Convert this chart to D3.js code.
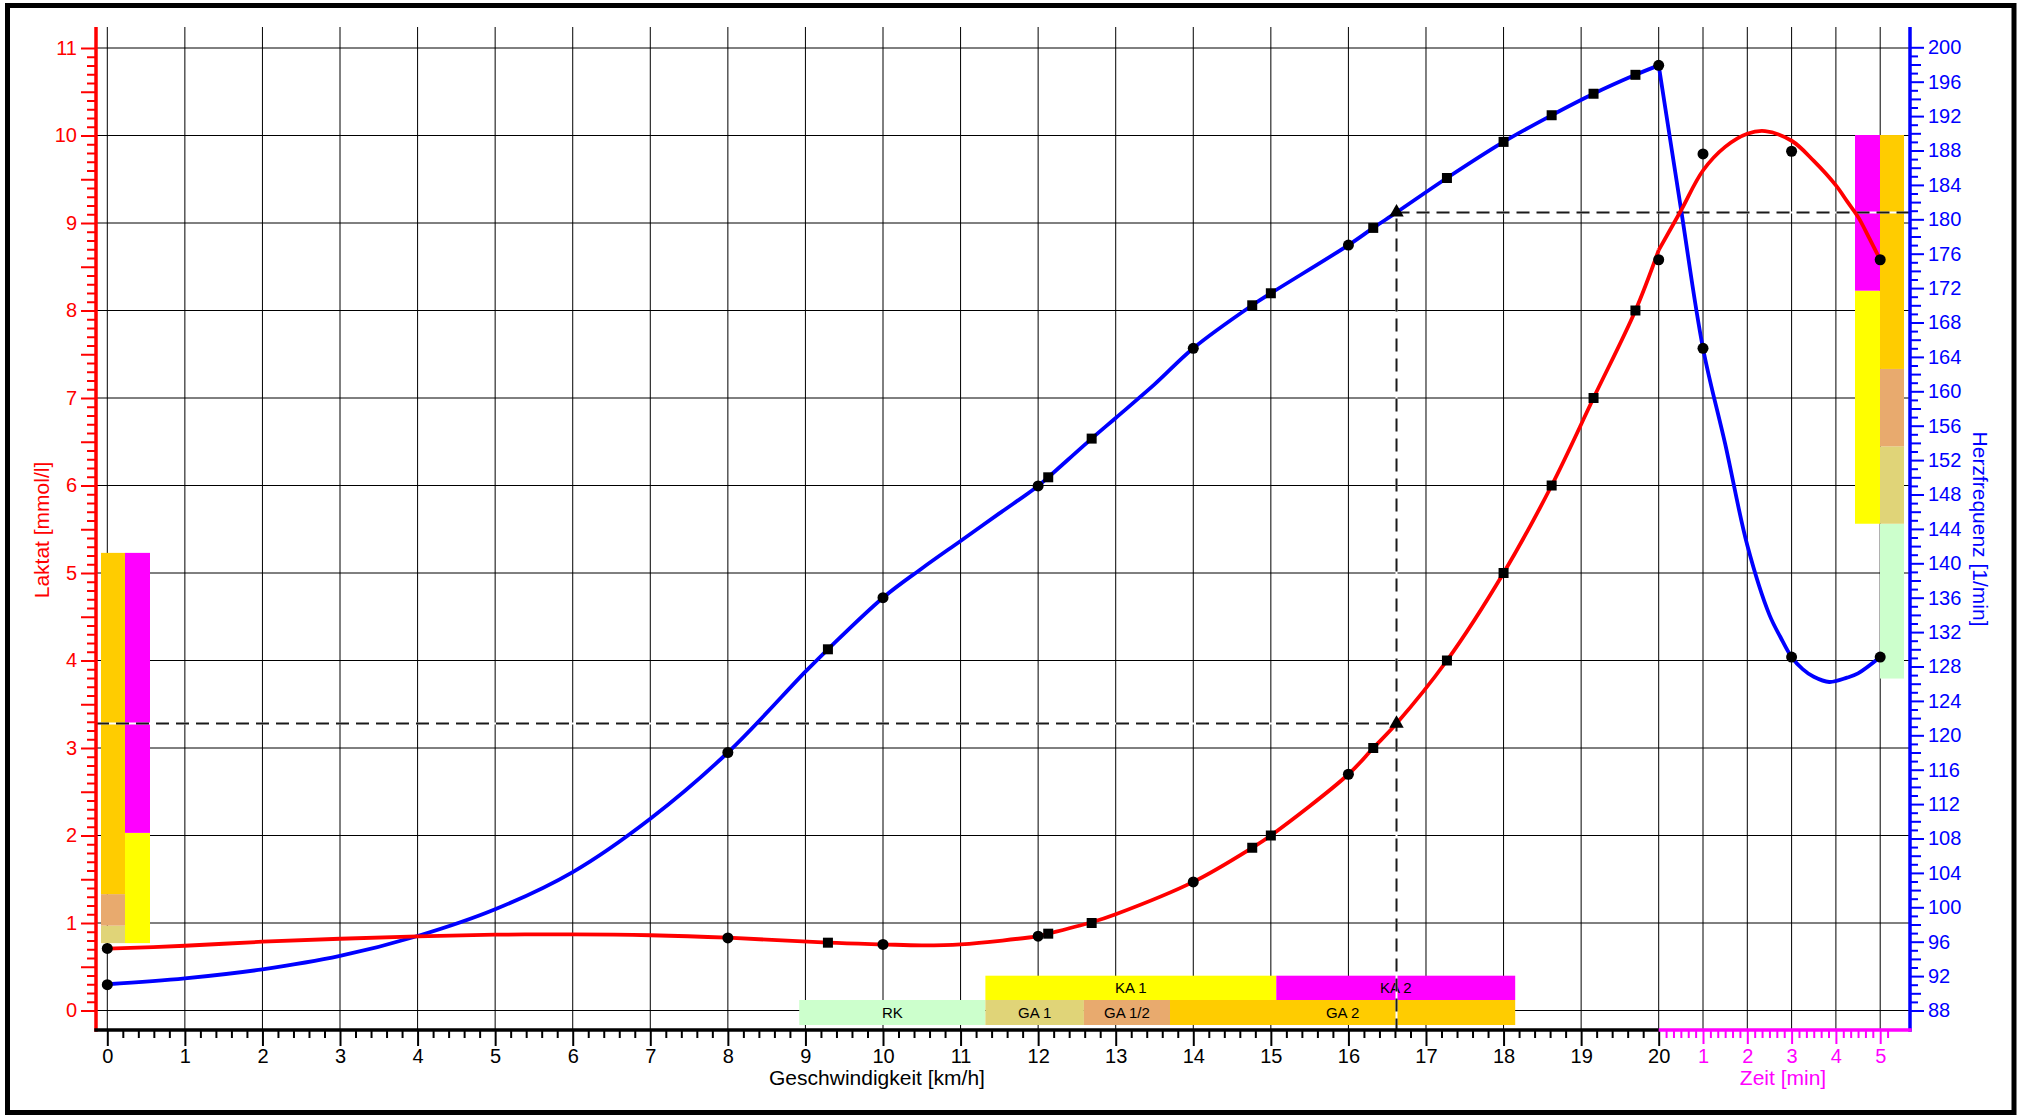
<!DOCTYPE html>
<html>
<head>
<meta charset="utf-8">
<script src="https://cdn.jsdelivr.net/npm/d3@7"></script>
<style>
  html, body { margin: 0; padding: 0; background: #fff; }
  svg { display: block; font-family: "Liberation Sans", Arial, sans-serif; }
</style>
</head>
<body>
<svg id="chart" width="2022" height="1115"></svg>
<script>
// measured points during the step test (circles / squares / threshold triangle)
const circleSpeed = [0, 8, 10, 12, 14, 16, 20];
const circleLactate = [0.71, 0.83, 0.755, 0.85, 1.47, 2.70, 8.58];
const circleHr = [91.0, 118.0, 136.0, 149.0, 165.0, 177.0, 197.9];

const squareSpeed = [9.29, 12.13, 12.69, 14.76, 15.0, 16.32, 17.27, 18.0, 18.62, 19.16, 19.7];
const squareLactate = [0.775, 0.878, 1.0, 1.86, 2.0, 3.0, 4.0, 5.0, 6.0, 7.0, 8.0];
const squareHr = [130.0, 150.0, 154.5, 170.0, 171.4, 179.0, 184.8, 189.0, 192.1, 194.6, 196.8];

const thrSpeed = 16.62, thrLactate = 3.28, thrHr = 180.8;

// recovery (time in min)
const recTime = [1, 3, 5];
const recLactate = [9.79, 9.82, 8.58];
const recHr = [165.0, 129.1, 129.1];

// fitted curves
const lacCurveSpeed = [0, 1, 2, 3, 4, 5, 6, 7, 8, 9.29, 10, 10.5, 11, 12, 12.13, 12.69, 13, 14, 14.76, 15, 16, 16.32, 16.62, 17.27, 18, 18.62, 19.16, 19.7, 20];
const lacCurveValue = [0.706, 0.74, 0.786, 0.82, 0.848, 0.866, 0.87, 0.86, 0.832, 0.775, 0.756, 0.745, 0.756, 0.851, 0.878, 1.008, 1.10, 1.47, 1.86, 2.0, 2.70, 3.0, 3.28, 4.0, 5.0, 6.0, 7.0, 8.0, 8.69];
const hrCurveSpeed = [0, 1, 2, 3, 4, 5, 6, 7, 8, 9, 9.29, 10, 10.5, 11, 11.5, 12, 12.13, 12.69, 13, 13.5, 14, 14.76, 15, 16, 16.32, 16.62, 17.27, 18, 18.62, 19.16, 19.7, 20];
const hrCurveValue = [91.05, 91.74, 92.79, 94.34, 96.66, 99.77, 104.1, 110.3, 118.0, 127.4, 130.0, 136.0, 139.4, 142.6, 145.8, 149.0, 150.0, 154.5, 156.9, 160.8, 165.0, 170.0, 171.4, 177.0, 179.0, 180.8, 184.8, 189.0, 192.1, 194.6, 196.8, 197.9];
const recLacCurveTime = [0, 0.5, 1, 1.5, 2, 2.4, 3, 3.5, 4, 4.25, 4.5, 4.75, 5];
const recLacCurveValue = [8.69, 9.14, 9.6, 9.87, 10.02, 10.05, 9.94, 9.71, 9.43, 9.25, 9.07, 8.83, 8.58];
const recHrCurveTime = [0, 0.5, 1, 1.5, 2, 2.5, 2.75, 3, 3.25, 3.5, 3.85, 4.25, 4.5, 5];
const recHrCurveValue = [197.9, 181.3, 165.0, 153.9, 142.1, 134.0, 131.4, 129.1, 127.7, 126.8, 126.2, 126.7, 127.2, 129.1];

// training zones
const speedZoneName = ['RK', 'GA 1', 'GA 1/2', 'GA 2', 'KA 1', 'KA 2'];
const speedZoneFrom = [8.92, 11.32, 12.59, 13.70, 11.32, 15.07];
const speedZoneTo = [11.32, 12.59, 13.70, 18.15, 15.07, 18.15];
const lacZoneName = ['GA 1', 'GA 1/2', 'GA 2', 'KA 1', 'KA 2'];
const lacZoneFrom = [0.77, 0.97, 1.33, 0.77, 2.03];
const lacZoneTo = [0.97, 1.33, 5.23, 2.03, 5.23];
const hrZoneName = ['RK', 'GA 1', 'GA 1/2', 'GA 2', 'KA 1', 'KA 2'];
const hrZoneFrom = [126.6, 144.6, 153.6, 162.6, 144.6, 171.7];
const hrZoneTo = [144.6, 153.6, 162.6, 189.8, 171.7, 189.8];

const zoneColor = { 'RK': '#ccffcc', 'GA 1': '#e0d478', 'GA 1/2': '#e8aa6e', 'GA 2': '#ffcc00', 'KA 1': '#ffff00', 'KA 2': '#ff00ff' };
const RED = '#ff0000', BLUE = '#0000ff', MAGENTA = '#ff00ff';

const AX_L = 96, AX_R = 1910, AX_B = 1030, TOP = 27;

const svg = d3.select('#chart');
const xSpeed = d3.scaleLinear().domain([0, 20]).range([107.3, 1658.7]);
const xTime = d3.scaleLinear().domain([0, 5]).range([1658.7, 1880.2]);
const yLac = d3.scaleLinear().domain([0, 11]).range([1010.5, 48]);
const yHr = d3.scaleLinear().domain([88, 200]).range([1010.5, 47.3]);

// frame
svg.append('rect').attr('x', 7.5).attr('y', 5.5).attr('width', 2006.5).attr('height', 1107)
  .attr('fill', 'none').attr('stroke', '#000').attr('stroke-width', 5);

// grid
const grid = svg.append('g').attr('stroke', '#000').attr('stroke-width', 1);
grid.selectAll('.hg').data(d3.range(0, 12)).join('line')
  .attr('x1', AX_L).attr('x2', AX_R).attr('y1', d => yLac(d)).attr('y2', d => yLac(d));
grid.selectAll('.vg').data(d3.range(0, 21)).join('line').attr('class', 'vg')
  .attr('x1', d => xSpeed(d)).attr('x2', d => xSpeed(d)).attr('y1', TOP).attr('y2', AX_B);
grid.selectAll('.vt').data(d3.range(1, 6)).join('line').attr('class', 'vt')
  .attr('x1', d => xTime(d)).attr('x2', d => xTime(d)).attr('y1', TOP).attr('y2', AX_B);

// zone bars
const isKA = n => n.startsWith('KA');
const zones = svg.append('g');
const speedZones = speedZoneName.map((n, i) => ({ n, a: speedZoneFrom[i], b: speedZoneTo[i] }));
zones.selectAll('.sz').data(speedZones).join('rect').attr('class', 'sz')
  .attr('x', d => xSpeed(d.a)).attr('width', d => xSpeed(d.b) - xSpeed(d.a))
  .attr('y', d => isKA(d.n) ? 975.7 : 1000).attr('height', d => isKA(d.n) ? 24.3 : 25)
  .attr('fill', d => zoneColor[d.n]);
zones.selectAll('.szt').data(speedZones).join('text').attr('class', 'szt')
  .attr('x', d => (xSpeed(d.a) + xSpeed(d.b)) / 2)
  .attr('y', d => isKA(d.n) ? 993.3 : 1018)
  .attr('text-anchor', 'middle').attr('font-size', 15).attr('fill', '#000')
  .text(d => d.n);

const lacZones = lacZoneName.map((n, i) => ({ n, a: lacZoneFrom[i], b: lacZoneTo[i] }));
zones.selectAll('.lz').data(lacZones).join('rect').attr('class', 'lz')
  .attr('x', d => isKA(d.n) ? 125 : 101).attr('width', d => isKA(d.n) ? 25 : 24)
  .attr('y', d => yLac(d.b)).attr('height', d => yLac(d.a) - yLac(d.b))
  .attr('fill', d => zoneColor[d.n]);

const hrZones = hrZoneName.map((n, i) => ({ n, a: hrZoneFrom[i], b: hrZoneTo[i] }));
zones.selectAll('.hz').data(hrZones).join('rect').attr('class', 'hz')
  .attr('x', d => isKA(d.n) ? 1855 : 1880).attr('width', d => isKA(d.n) ? 25 : 24)
  .attr('y', d => yHr(d.b)).attr('height', d => yHr(d.a) - yHr(d.b))
  .attr('fill', d => zoneColor[d.n]);

// threshold guide lines
const guides = [
  [AX_L, yLac(thrLactate), xSpeed(thrSpeed), yLac(thrLactate)],
  [xSpeed(thrSpeed), yHr(thrHr) + 6, xSpeed(thrSpeed), AX_B],
  [xSpeed(thrSpeed), yHr(thrHr), AX_R, yHr(thrHr)]
];
const gGuide = svg.append('g');
gGuide.selectAll('.gw').data(guides).join('line').attr('class', 'gw')
  .attr('x1', d => d[0]).attr('y1', d => d[1]).attr('x2', d => d[2]).attr('y2', d => d[3])
  .attr('stroke', '#fff').attr('stroke-width', 2);
gGuide.selectAll('.gd').data(guides).join('line').attr('class', 'gd')
  .attr('x1', d => d[0]).attr('y1', d => d[1]).attr('x2', d => d[2]).attr('y2', d => d[3])
  .attr('stroke', '#1a1a1a').attr('stroke-width', 2).attr('stroke-dasharray', '13,7');

// curves
const smooth = d3.curveCatmullRom.alpha(0.5);
const curveSpeed = (ys) => d3.line().x(d => xSpeed(d[0])).y(d => ys(d[1])).curve(smooth);
const curveTime = (ys) => d3.line().x(d => xTime(d[0])).y(d => ys(d[1])).curve(smooth);
const curves = svg.append('g').attr('fill', 'none').attr('stroke-width', 3.8).attr('stroke-linejoin', 'round');
curves.append('path').attr('stroke', BLUE).attr('d', curveSpeed(yHr)(d3.zip(hrCurveSpeed, hrCurveValue)));
curves.append('path').attr('stroke', BLUE).attr('d', curveTime(yHr)(d3.zip(recHrCurveTime, recHrCurveValue)));
curves.append('path').attr('stroke', RED).attr('d', curveSpeed(yLac)(d3.zip(lacCurveSpeed, lacCurveValue)));
curves.append('path').attr('stroke', RED).attr('d', curveTime(yLac)(d3.zip(recLacCurveTime, recLacCurveValue)));

// markers
const marks = svg.append('g').attr('fill', '#000');
const sym = (type, size) => d3.symbol().type(type).size(size)();
const allCircles = [
  ...d3.zip(circleSpeed, circleLactate).map(d => [xSpeed(d[0]), yLac(d[1])]),
  ...d3.zip(circleSpeed, circleHr).map(d => [xSpeed(d[0]), yHr(d[1])]),
  ...d3.zip(recTime, recLactate).map(d => [xTime(d[0]), yLac(d[1])]),
  ...d3.zip(recTime, recHr).map(d => [xTime(d[0]), yHr(d[1])])
];
marks.selectAll('.c').data(allCircles).join('circle').attr('class', 'c')
  .attr('cx', d => d[0]).attr('cy', d => d[1]).attr('r', 5.5);
const allSquares = [
  ...d3.zip(squareSpeed, squareLactate).map(d => [xSpeed(d[0]), yLac(d[1])]),
  ...d3.zip(squareSpeed, squareHr).map(d => [xSpeed(d[0]), yHr(d[1])])
];
marks.selectAll('.s').data(allSquares).join('path').attr('class', 's')
  .attr('transform', d => `translate(${d[0]},${d[1]})`).attr('d', sym(d3.symbolSquare, 100));
marks.selectAll('.t').data([[xSpeed(thrSpeed), yLac(thrLactate)], [xSpeed(thrSpeed), yHr(thrHr)]]).join('path').attr('class', 't')
  .attr('transform', d => `translate(${d[0]},${d[1]})`).attr('d', sym(d3.symbolTriangle, 90));

// axes
const near = (v, step) => Math.abs(v / step - Math.round(v / step)) < 1e-6;

const gLeft = svg.append('g').attr('transform', `translate(${AX_L},0)`)
  .call(d3.axisLeft(yLac).tickValues(d3.range(0, 111).map(i => i / 10)).tickSize(9).tickPadding(10)
    .tickFormat(d => near(d, 1) ? String(Math.round(d)) : ''));
gLeft.select('.domain').remove();
gLeft.selectAll('.tick line').attr('x2', d => near(d, 0.5) ? -15 : -9).attr('stroke', RED).attr('stroke-width', 2);
gLeft.selectAll('.tick text').attr('fill', RED).attr('font-size', 20);
gLeft.attr('font-family', null);

const gRight = svg.append('g').attr('transform', `translate(${AX_R},0)`)
  .call(d3.axisRight(yHr).tickValues(d3.range(88, 201)).tickSize(9).tickPadding(9)
    .tickFormat(d => (d - 88) % 4 === 0 ? String(d) : ''));
gRight.select('.domain').remove();
gRight.selectAll('.tick line').attr('x2', d => (d - 88) % 4 === 0 ? 14 : (d % 2 === 0 ? 11 : 8)).attr('stroke', BLUE).attr('stroke-width', 2);
gRight.selectAll('.tick text').attr('fill', BLUE).attr('font-size', 20);
gRight.attr('font-family', null);

const gBottom = svg.append('g').attr('transform', `translate(0,${AX_B})`)
  .call(d3.axisBottom(xSpeed).tickValues(d3.range(0, 101).map(i => i / 5)).tickSize(8).tickPadding(11)
    .tickFormat(d => near(d, 1) ? String(Math.round(d)) : ''));
gBottom.select('.domain').remove();
gBottom.selectAll('.tick line').attr('y2', d => near(d, 1) ? 16 : 8).attr('stroke', '#000').attr('stroke-width', 2);
gBottom.selectAll('.tick text').attr('fill', '#000').attr('font-size', 20);
gBottom.attr('font-family', null);

const gTime = svg.append('g').attr('transform', `translate(0,${AX_B})`)
  .call(d3.axisBottom(xTime).tickValues(d3.range(1, 32).map(i => i / 6)).tickSize(8).tickPadding(11)
    .tickFormat(d => near(d, 1) ? String(Math.round(d)) : ''));
gTime.select('.domain').remove();
gTime.selectAll('.tick line').attr('y2', d => near(d, 1) ? 14 : 8).attr('stroke', MAGENTA).attr('stroke-width', 2);
gTime.selectAll('.tick text').attr('fill', MAGENTA).attr('font-size', 20);
gTime.attr('font-family', null);

// axis lines
svg.append('line').attr('x1', AX_L).attr('x2', AX_L).attr('y1', TOP).attr('y2', AX_B + 1.7)
  .attr('stroke', RED).attr('stroke-width', 3.5);
svg.append('line').attr('x1', AX_R).attr('x2', AX_R).attr('y1', TOP).attr('y2', AX_B + 1.7)
  .attr('stroke', BLUE).attr('stroke-width', 3.5);
svg.append('line').attr('x1', AX_L - 1.7).attr('x2', xSpeed(20)).attr('y1', AX_B).attr('y2', AX_B)
  .attr('stroke', '#000').attr('stroke-width', 3.5);
svg.append('line').attr('x1', xSpeed(20)).attr('x2', AX_R + 1.7).attr('y1', AX_B).attr('y2', AX_B)
  .attr('stroke', MAGENTA).attr('stroke-width', 3.5);

// axis titles
svg.append('text').attr('transform', 'translate(49,530) rotate(-90)').attr('text-anchor', 'middle')
  .attr('font-size', 21).attr('fill', RED).text('Laktat [mmol/l]');
svg.append('text').attr('transform', 'translate(1973,529) rotate(90)').attr('text-anchor', 'middle')
  .attr('font-size', 21).attr('fill', BLUE).text('Herzfrequenz [1/min]');
svg.append('text').attr('x', 877).attr('y', 1085).attr('text-anchor', 'middle')
  .attr('font-size', 21).attr('fill', '#000').text('Geschwindigkeit [km/h]');
svg.append('text').attr('x', 1783).attr('y', 1085).attr('text-anchor', 'middle')
  .attr('font-size', 21).attr('fill', MAGENTA).text('Zeit [min]');
</script>
</body>
</html>
